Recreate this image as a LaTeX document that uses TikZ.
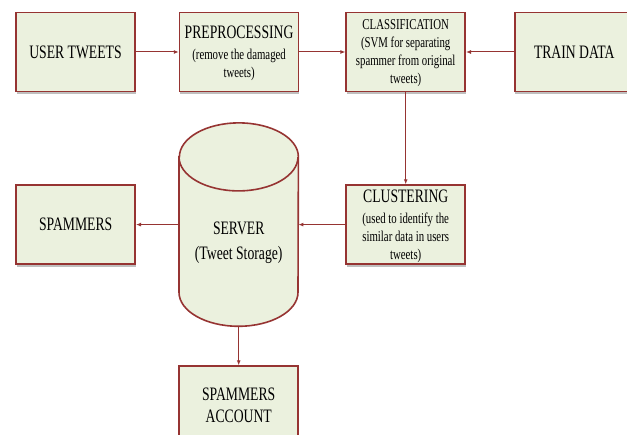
\documentclass[tikz,border=0pt]{standalone}
\usepackage{fontspec}
\setmainfont{Liberation Serif}[FakeStretch=0.72]
\usepackage{tikz}
\usetikzlibrary{positioning, shapes.geometric, arrows.meta, shadows}
\definecolor{boxred}{RGB}{150,52,50}
\definecolor{boxfill}{RGB}{235,241,222}
\newcommand{\detailfont}{\fontsize{15}{18}\selectfont}
\tikzstyle{process} = [rectangle, minimum width=119pt, minimum height=79pt, text centered, align=center, draw=boxred, line width=1.6pt, fill=boxfill, drop shadow={shadow xshift=0.5pt, shadow yshift=-3pt, fill=black, opacity=0.25}, font=\fontsize{19}{21}\selectfont, inner sep=2pt, text depth=0pt]
\tikzstyle{detailed} = [font=\fontsize{19}{18}\selectfont]
\tikzstyle{store} = [rectangle, minimum width=119pt, minimum height=203pt, inner sep=0pt]
\tikzstyle{cyl} = [draw=boxred, line width=1.6pt, fill=boxfill]
\tikzstyle{arrow} = [draw=boxred, line width=1pt, -{Latex[length=5pt,width=4pt]}]

\begin{document}
\begin{tikzpicture}[x=1pt, y=1pt]
        \useasboundingbox (0,0) rectangle (627,435);
        \node (user) [process] at (75.5,383) {USER TWEETS};
        \node (prep) [process, detailed, right=43pt of user] {PREPROCESSING\\[3pt]\detailfont (remove the damaged\\ \detailfont tweets)};
        \node (class) [process, right=46pt of prep, font=\detailfont] {CLASSIFICATION\\ (SVM for separating\\ spammer from original\\ tweets)};
        \node (train) [process, right=48pt of class] {TRAIN DATA};
        \node (clust) [process, detailed, below=92pt of class] {CLUSTERING\\[3pt]\detailfont (used to identify the\\ \detailfont similar data in users\\ \detailfont tweets)};
        \node (server) [store, left=47pt of clust] {};
        \node (spam) [process, left=43pt of server] {SPAMMERS};
        \node (account) [process, below=39pt of server, font=\fontsize{19}{22}\selectfont] {SPAMMERS\\ ACCOUNT};

        % cylinder for the tweet storage
        \fill[black, opacity=0.25, xshift=0.5pt, yshift=-3pt] ([yshift=-34pt]server.north west) -- ([yshift=34pt]server.south west) arc[start angle=180, end angle=360, x radius=59.5, y radius=34] -- ([yshift=-34pt]server.north east) arc[start angle=0, end angle=180, x radius=59.5, y radius=34] -- cycle;
        \draw[cyl] ([yshift=-34pt]server.north west) -- ([yshift=34pt]server.south west) arc[start angle=180, end angle=360, x radius=59.5, y radius=34] -- ([yshift=-34pt]server.north east) arc[start angle=0, end angle=180, x radius=59.5, y radius=34] -- cycle;
        \draw[draw=boxred, line width=1.6pt] ([yshift=-34pt]server.north west) arc[start angle=180, end angle=360, x radius=59.5, y radius=34];
        \node (servertext) [align=center, font=\fontsize{19}{25}\selectfont] at ([yshift=-18pt]server.center) {SERVER\\ (Tweet Storage)};

        \draw [arrow] (user) -- (prep);
        \draw [arrow] (prep) -- (class);
        \draw [arrow] (train) -- (class);
        \draw [arrow] (class) -- (clust);
        \draw [arrow] (clust.west) -- (server.east);
        \draw [arrow] (server.west) -- (spam.east);
        \draw [arrow] (server.south) -- (account.north);
    \end{tikzpicture}
\end{document}
